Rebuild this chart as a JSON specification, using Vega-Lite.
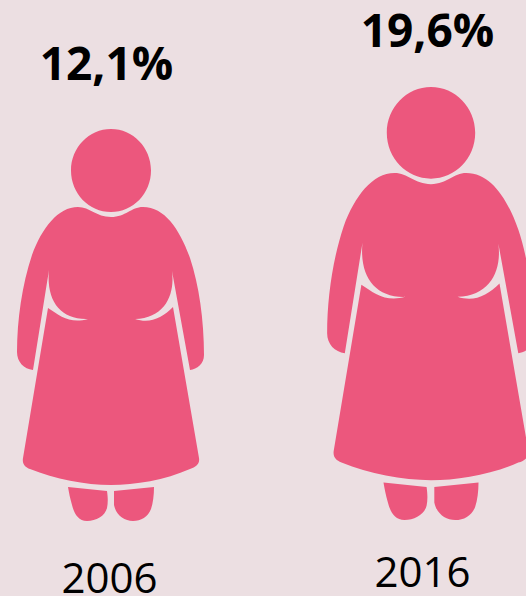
{
"$schema":"https://vega.github.io/schema/vega-lite/v6.json",
"width":526,"height":596,"padding":0,"autosize":{"type":"none"},
"background":"#ecdfe2",
"view":{"stroke":null},
"data":{"values":[{"year":2006,"value":12.1,"label":"12,1%"},{"year":2016,"value":19.6,"label":"19,6%"}]},
"layer":[
{"mark":{"type":"point","filled":true,"opacity":1,"color":"#ec577d","fill":"#ec577d","strokeWidth":0,"shape":"M-0.33 -1.18C-0.21 -1.18 -0.15 -1.08 0 -1.08C0.15 -1.08 0.20 -1.18 0.32 -1.18C0.54 -1.18 0.69 -0.95 0.79 -0.67C0.88 -0.40 0.93 -0.05 0.93 0.30C0.93 0.39 0.86 0.44 0.79 0.45L0.61 -0.54C0.64 -0.30 0.54 -0.07 0.24 -0.06C0.39 -0.01 0.51 -0.07 0.62 -0.18L0.88 1.33C0.89 1.39 0.85 1.42 0.79 1.44C0.54 1.55 0.24 1.60 0 1.60C-0.26 1.60 -0.56 1.54 -0.81 1.44C-0.86 1.42 -0.89 1.39 -0.88 1.33L-0.63 -0.17C-0.51 -0.09 -0.41 -0.01 -0.23 -0.06C-0.51 -0.05 -0.65 -0.25 -0.62 -0.55L-0.78 0.45C-0.87 0.44 -0.94 0.37 -0.94 0.27C-0.94 -0.05 -0.89 -0.40 -0.79 -0.70C-0.69 -0.97 -0.53 -1.18 -0.33 -1.18ZM-0.43 1.62L-0.04 1.66C-0.03 1.73 -0.03 1.78 -0.04 1.83C-0.06 1.91 -0.15 1.96 -0.24 1.96C-0.33 1.96 -0.37 1.88 -0.39 1.80C-0.41 1.73 -0.42 1.68 -0.43 1.62ZM0.03 1.66L0.43 1.62C0.43 1.70 0.42 1.78 0.40 1.84C0.37 1.92 0.30 1.96 0.22 1.96C0.13 1.96 0.05 1.90 0.03 1.80C0.03 1.75 0.03 1.70 0.03 1.66ZM-0.40 -1.545C-0.40 -1.775 -0.22 -1.96 0 -1.96C0.22 -1.96 0.40 -1.775 0.40 -1.545C0.40 -1.315 0.22 -1.13 0 -1.13C-0.22 -1.13 -0.40 -1.315 -0.40 -1.545Z"},
 "encoding":{
  "x":{"field":"year","type":"quantitative","axis":null,"scale":{"domain":[2006,2016],"range":[111,431]}},
  "y":{"field":"value","type":"quantitative","axis":null,"scale":{"domain":[12.1,19.6],"range":[325,303.5]}},
  "size":{"field":"value","type":"quantitative","legend":null,"scale":{"domain":[12.1,19.6],"range":[40000,48841]}}
 }},
{"mark":{"type":"text","font":"Open Sans","fontWeight":"bold","fontSize":46,"color":"#000000","align":"center","baseline":"alphabetic"},
 "encoding":{
  "x":{"field":"year","type":"quantitative","axis":null,"scale":{"domain":[2006,2016],"range":[106.5,427.5]}},
  "y":{"field":"value","type":"quantitative","axis":null,"scale":{"domain":[12.1,19.6],"range":[80,47]}},
  "text":{"field":"label"}
 }},
{"mark":{"type":"text","font":"Open Sans","fontSize":42,"color":"#000000","align":"center","baseline":"alphabetic"},
 "encoding":{
  "x":{"field":"year","type":"quantitative","axis":null,"scale":{"domain":[2006,2016],"range":[109.5,422.5]}},
  "y":{"field":"value","type":"quantitative","axis":null,"scale":{"domain":[12.1,19.6],"range":[593,587]}},
  "text":{"field":"year","type":"quantitative","format":"d"}
 }}
],
"resolve":{"scale":{"x":"independent","y":"independent"}}
}
